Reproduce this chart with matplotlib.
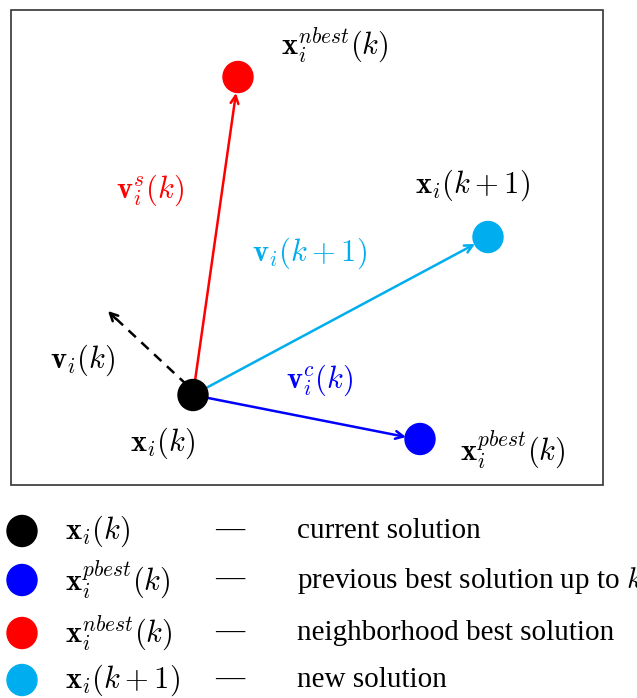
import matplotlib.pyplot as plt
from matplotlib.patches import Ellipse, Rectangle

plt.rcParams['mathtext.fontset'] = 'cm'
plt.rcParams['font.family'] = ['Liberation Serif', 'DejaVu Serif']

# point positions in pixel space (x right, y down)
names = ['current', 'pbest', 'nbest', 'new']
px = [193, 420, 238, 488]
py = [395, 439, 77, 237]
colors = ['black', '#0000ff', '#ff0000', '#00aeef']

point_labels = [r'$\mathbf{x}_i(k)$', r'$\mathbf{x}_i^{pbest}(k)$',
                r'$\mathbf{x}_i^{nbest}(k)$', r'$\mathbf{x}_i(k+1)$']
label_x = [163, 513, 335, 473]
label_y = [443, 450, 45, 185]

descriptions = ['current solution', 'previous best solution up to $k$',
                'neighborhood best solution', 'new solution']
legend_y = [531, 580, 633, 680]

fig = plt.figure(figsize=(6.37, 6.98), dpi=100)
ax = fig.add_axes([0, 0, 1, 1])
ax.set_xlim(0, 637)
ax.set_ylim(698, 0)
ax.axis('off')

# frame around the diagram
ax.add_patch(Rectangle((11, 10), 592, 475, fill=False, edgecolor='#333333', lw=1.2))

fs_math = 22
fs_text = 21

# velocity arrows
def arrow(x0, y0, x1, y1, color):
    ax.annotate('', xy=(x1, y1), xytext=(x0, y0),
                arrowprops=dict(arrowstyle='->', color=color, lw=1.8,
                                shrinkA=0, shrinkB=0, mutation_scale=14))

# previous velocity: dashed shaft, solid head
vx0, vy0, vx1, vy1 = px[0] - 6, py[0] - 10, 108, 311
ax.plot([vx0, vx1 + 3], [vy0, vy1 + 3], color='black', lw=1.8, ls=(0, (4, 3)))
arrow(vx1 + 8, vy1 + 8, vx1, vy1, 'black')

arrow(px[0], py[0], px[2] - 2, py[2] + 16, colors[2])
arrow(px[0], py[0], px[3] - 13, py[3] + 7, colors[3])
arrow(px[0], py[0], px[1] - 14, py[1] - 2, colors[1])

for x, y, c in zip(px, py, colors):
    ax.add_patch(Ellipse((x, y), 30, 31, color=c, zorder=5))

for x, y, t in zip(label_x, label_y, point_labels):
    ax.text(x, y, t, fontsize=fs_math, ha='center', va='center')

ax.text(150, 190, r'$\mathbf{v}_i^{s}(k)$', color=colors[2], fontsize=fs_math, ha='center', va='center')
ax.text(310, 253, r'$\mathbf{v}_i(k+1)$', color=colors[3], fontsize=fs_math, ha='center', va='center')
ax.text(83, 360, r'$\mathbf{v}_i(k)$', color='black', fontsize=fs_math, ha='center', va='center')
ax.text(320, 380, r'$\mathbf{v}_i^{c}(k)$', color=colors[1], fontsize=fs_math, ha='center', va='center')

# legend rows
for y, c, t, d in zip(legend_y, colors, point_labels, descriptions):
    ax.add_patch(Ellipse((22, y), 30, 31, color=c))
    ax.text(65, y, t, fontsize=fs_math, ha='left', va='center')
    ax.text(230, y, '—', fontsize=fs_text, ha='center', va='center')
    ax.text(297, y, d, fontsize=fs_text, ha='left', va='center')

fig.savefig('out.png', dpi=100)
